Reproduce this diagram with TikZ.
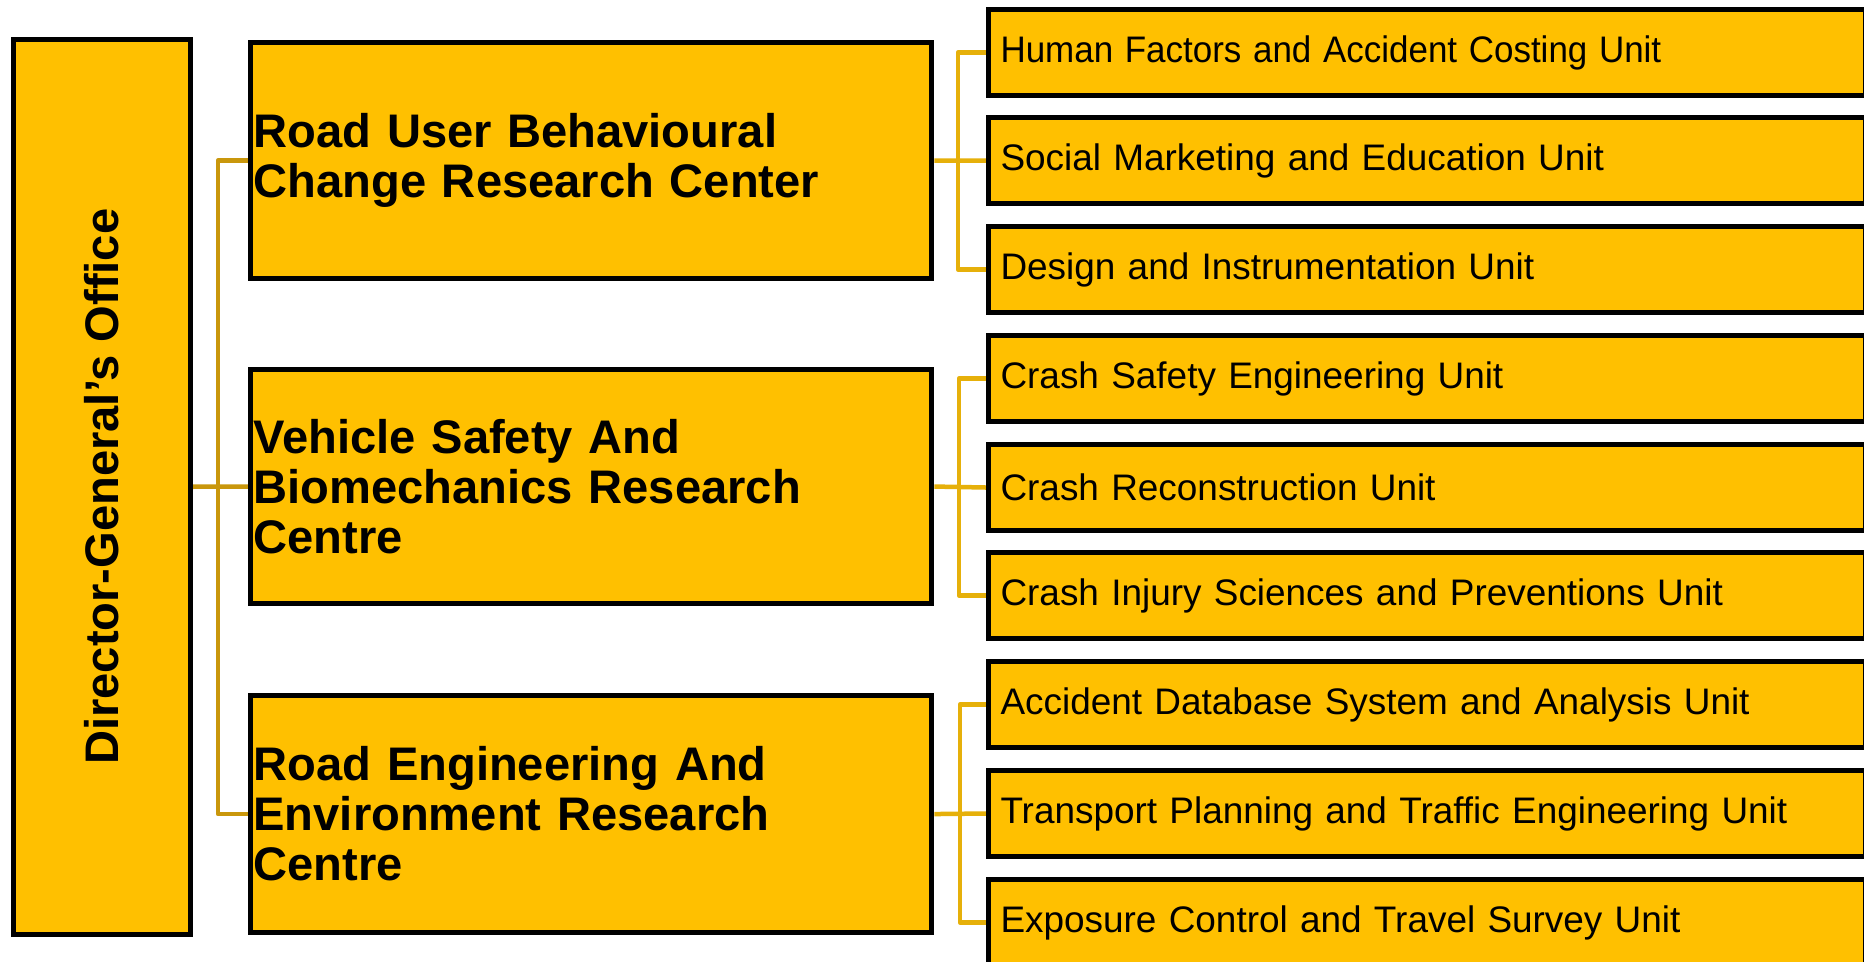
\documentclass[tikz,border=0pt]{standalone}
\usepackage{fontspec}
\setmainfont{Liberation Sans}
\usetikzlibrary{backgrounds}
\definecolor{gold}{HTML}{FFC000}
\definecolor{linkdark}{HTML}{C9970C}
\definecolor{linklight}{HTML}{E6B00A}
\tikzset{
  box/.style={draw=black, line width=0.05cm, fill=gold, anchor=north west, inner ysep=0pt, align=left},
  dgbox/.style={box, minimum width=1.77cm, minimum height=8.94cm, inner sep=0pt, align=center,
    font=\fontsize{13.4}{14.2}\selectfont\bfseries},
  centrebox/.style={box, text width=6.75cm, inner xsep=0.03cm, font=\fontsize{13.4}{14.2}\selectfont\bfseries},
  unitbox/.style={box, text width=8.52cm, inner xsep=0.12cm, minimum height=0.86cm, font=\fontsize{10.5}{12}\selectfont},
  darklink/.style={draw=linkdark, line width=0.045cm, line join=round},
  lightlink/.style={draw=linklight, line width=0.045cm, line join=round}
}
\begin{document}
\begin{tikzpicture}[x=0.01cm, y=-0.01cm]
\useasboundingbox (0,0) rectangle (1864,962);

\node[dgbox] (dg) at (11,37) {\rotatebox{90}{Director-General’s Office}};

\node[centrebox, minimum height=2.36cm] (b1) at (248,40) {Road User Behavioural\\Change Research Center};
\node[centrebox, minimum height=2.34cm] (b2) at (248,367) {Vehicle Safety And\\Biomechanics Research\\Centre};
\node[centrebox, minimum height=2.37cm] (b3) at (248,693) {Road Engineering And\\Environment Research\\Centre};

\node[unitbox] (u1) at (986,7) {\scalebox{0.947}[1]{Human Factors and Accident Costing Unit}};
\node[unitbox] (u2) at (986,115) {Social Marketing and Education Unit};
\node[unitbox] (u3) at (986,224) {Design and Instrumentation Unit};
\node[unitbox] (u4) at (986,333) {Crash Safety Engineering Unit};
\node[unitbox] (u5) at (986,442) {Crash Reconstruction Unit};
\node[unitbox] (u6) at (986,550) {Crash Injury Sciences and Preventions Unit};
\node[unitbox] (u7) at (986,659) {Accident Database System and Analysis Unit};
\node[unitbox] (u8) at (986,768) {Transport Planning and Traffic Engineering Unit};
\node[unitbox] (u9) at (986,877) {Exposure Control and Travel Survey Unit};

\coordinate (lbus) at (218,484);
\coordinate (r1) at (958,158);
\coordinate (r2) at (959,484);
\coordinate (r3) at (960,811);

\begin{scope}[on background layer]
  \fill[white] (0,0) rectangle (1864,962);
  \draw[darklink] (dg.east) -- (b2.west);
  \draw[darklink] (b1.west) -| (lbus) |- (b3.west);
  \draw[lightlink] (b1.east) -- (u2.west);
  \draw[lightlink] (u1.west) -| (r1) |- (u3.west);
  \draw[lightlink] (b2.east) -- (u5.west);
  \draw[lightlink] (u4.west) -| (r2) |- (u6.west);
  \draw[lightlink] (b3.east) -- (u8.west);
  \draw[lightlink] (u7.west) -| (r3) |- (u9.west);
\end{scope}
\end{tikzpicture}
\end{document}
